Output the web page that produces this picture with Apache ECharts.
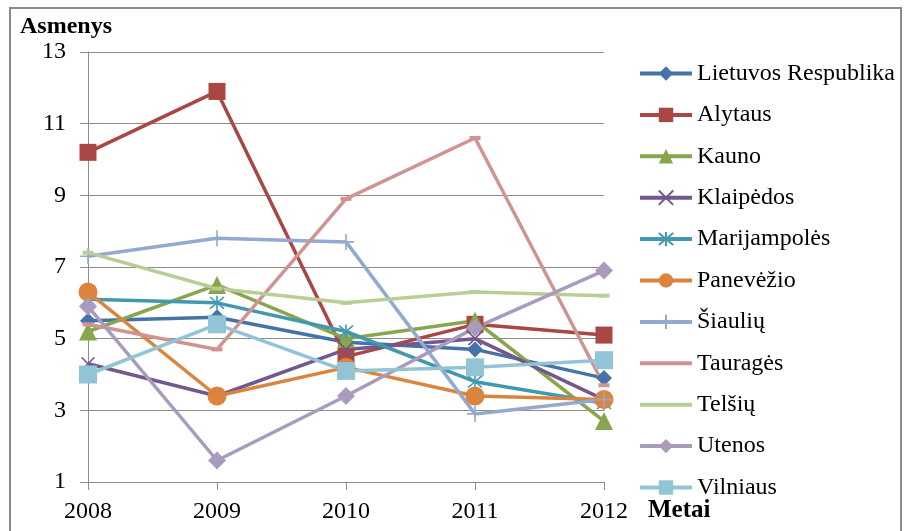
<!DOCTYPE html>
<html>
<head>
<meta charset="utf-8">
<script src="https://cdn.jsdelivr.net/npm/echarts@6/dist/echarts.min.js"></script>
<style>
  html, body { margin: 0; padding: 0; background: #fff; }
  #chart { width: 906px; height: 531px; }
</style>
</head>
<body>
<div id="chart"></div>
<script>
const years = ['2008', '2009', '2010', '2011', '2012'];

const lietuvos = [5.5, 5.6, 4.9, 4.7, 3.9];
const alytaus = [10.2, 11.9, 4.5, 5.4, 5.1];
const kauno = [5.2, 6.5, 5.0, 5.5, 2.7];
const klaipedos = [4.3, 3.4, 4.7, 5.0, 3.3];
const marijampoles = [6.1, 6.0, 5.2, 3.8, 3.2];
const panevezio = [6.3, 3.4, 4.2, 3.4, 3.3];
const siauliu = [7.3, 7.8, 7.7, 2.9, 3.3];
const taurages = [5.4, 4.7, 8.9, 10.6, 3.7];
const telsiu = [7.4, 6.4, 6.0, 6.3, 6.2];
const utenos = [5.9, 1.6, 3.4, 5.3, 6.9];
const vilniaus = [4.0, 5.4, 4.1, 4.2, 4.4];

const FONT = '"Liberation Serif", "Times New Roman", serif';
const GRID_COLOR = '#8c8c8c';
const DASH = 'path://M0,0L10,0L10,4L0,4Z';

// name, data, color, symbol, size, stroked marker?
const seriesDefs = [
  ['Lietuvos Respublika', lietuvos, '#4572A7', 'diamond', 16, false],
  ['Alytaus', alytaus, '#AA4643', 'rect', 17, false],
  ['Kauno', kauno, '#89A54E', 'triangle', 18, false],
  ['Klaipėdos', klaipedos, '#71588F', 'path://M0,0L10,10M10,0L0,10', 13, true],
  ['Marijampolės', marijampoles, '#4198AF', 'path://M0,0L10,10M10,0L0,10M5,-1L5,11', 14, true],
  ['Panevėžio', panevezio, '#DB843D', 'circle', 19, false],
  ['Šiaulių', siauliu, '#93A9CF', 'path://M5,0L5,10M0,5L10,5', 16, true],
  ['Tauragės', taurages, '#D19392', DASH, [11, 4], false],
  ['Telšių', telsiu, '#B9CD96', DASH, [11, 4], false],
  ['Utenos', utenos, '#A99BBD', 'diamond', 18, false],
  ['Vilniaus', vilniaus, '#92C4D6', 'rect', 18, false]
];

const chart = echarts.init(document.getElementById('chart'), null, { renderer: 'canvas' });

chart.setOption({
  animation: false,
  backgroundColor: '#fff',
  grid: { left: 88, right: 302, top: 52, bottom: 49 },
  xAxis: {
    type: 'category',
    data: years,
    boundaryGap: false,
    axisLine: { lineStyle: { color: GRID_COLOR, width: 1 } },
    axisTick: { show: true, length: 8, lineStyle: { color: GRID_COLOR } },
    axisLabel: { color: '#000', fontFamily: FONT, fontSize: 24, margin: 18 },
    splitLine: { show: false }
  },
  yAxis: {
    type: 'value',
    min: 1,
    max: 13,
    interval: 2,
    axisLine: { show: true, lineStyle: { color: GRID_COLOR, width: 1 } },
    axisTick: { show: true, length: 8, lineStyle: { color: GRID_COLOR } },
    axisLabel: { color: '#000', fontFamily: FONT, fontSize: 24, margin: 22 },
    splitLine: { show: true, lineStyle: { color: GRID_COLOR, width: 1 } }
  },
  legend: {
    orient: 'vertical',
    left: 633,
    top: 56.5,
    itemWidth: 52,
    itemHeight: 18,
    itemGap: 17.4,
    lineStyle: { width: 4 },
    textStyle: { color: '#000', fontFamily: FONT, fontSize: 24 },
    data: seriesDefs.map(d => d[4] instanceof Array ? { name: d[0], itemStyle: { opacity: 0 } } : d[0])
  },
  graphic: [
    { type: 'rect', shape: { x: 10, y: 8, width: 891, height: 560 }, style: { fill: 'none', stroke: '#8a8a8a', lineWidth: 2 }, silent: true, z: -1 },
    { type: 'text', left: 20, top: 15, style: { text: 'Asmenys', font: 'bold 24px ' + FONT, fill: '#000' } },
    { type: 'text', left: 648, top: 498, style: { text: 'Metai', font: 'bold 25px ' + FONT, fill: '#000' } }
  ],
  series: seriesDefs.map(([name, data, color, symbol, size, stroked]) => ({
    name,
    type: 'line',
    data,
    symbol,
    symbolSize: size,
    showAllSymbol: true,
    clip: false,
    lineStyle: { color, width: 3.5 },
    itemStyle: stroked
      ? { color: color, borderColor: color, borderWidth: 1.6 }
      : { color: color, borderWidth: 0 },
    emphasis: { disabled: true }
  }))
});
</script>
</body>
</html>
